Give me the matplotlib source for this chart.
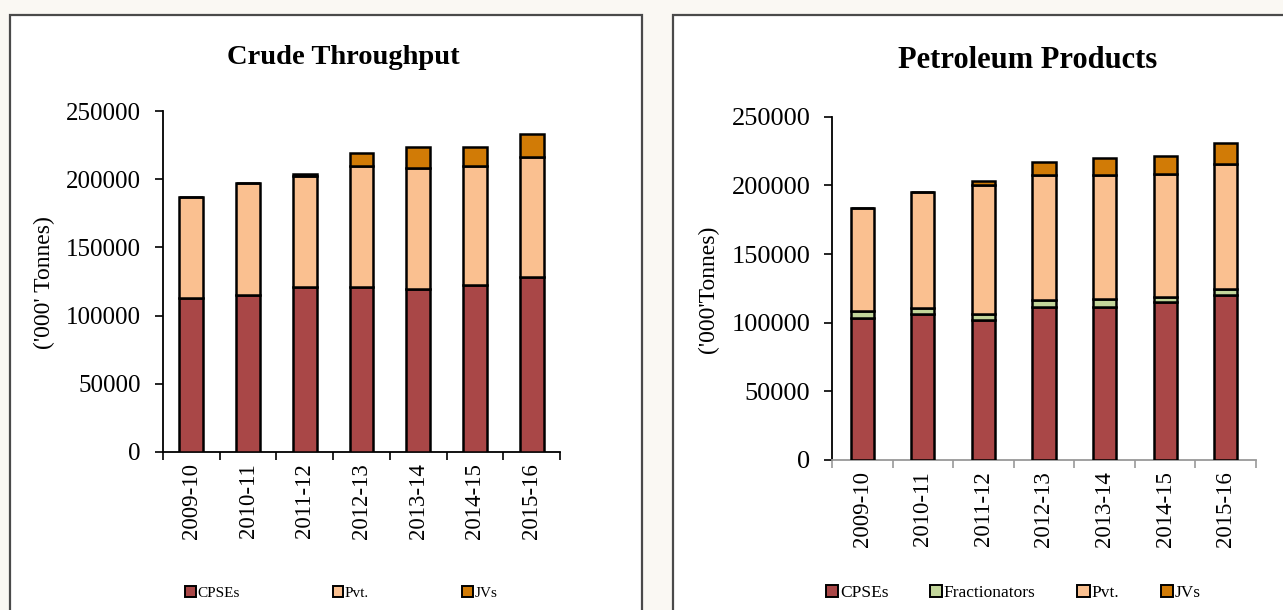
import matplotlib
matplotlib.use("Agg")
import matplotlib.pyplot as plt
from matplotlib.patches import Rectangle, Patch
import numpy as np

years = ["2009-10", "2010-11", "2011-12", "2012-13", "2013-14", "2014-15", "2015-16"]

# Crude Throughput ('000 Tonnes)
crude_cpse = [112600, 115200, 120900, 120900, 119700, 122300, 128000]
crude_pvt = [74700, 82100, 81500, 88600, 88700, 87200, 88400]
crude_jv = [0, 0, 1700, 10000, 15400, 14300, 17100]

# Petroleum Products ('000 Tonnes)
prod_cpse = [103500, 106300, 102300, 111700, 111700, 114800, 120200]
prod_frac = [4800, 4500, 4300, 4500, 5900, 4200, 4500]
prod_pvt = [75400, 84200, 93800, 91000, 89600, 89600, 91000]
prod_jv = [0, 0, 2800, 9900, 12500, 12500, 15300]

C_CPSE = "#A94747"
C_FRAC = "#C3D69B"
C_PVT = "#FAC090"
C_JV = "#D17B06"

SERIF = ["Liberation Serif", "DejaVu Serif"]
plt.rcParams["font.family"] = SERIF

fig = plt.figure(figsize=(12.83, 6.10), dpi=100)
fig.patch.set_facecolor("#FAF8F3")

# panel frames
for (x0, x1) in [(10, 642), (673, 1300)]:
    fig.patches.append(Rectangle((x0 / 1283, -0.05), (x1 - x0) / 1283, 1 - 14.8 / 610 + 0.05,
                                 transform=fig.transFigure, facecolor="white",
                                 edgecolor="#4a4a4a", linewidth=1.6, zorder=-10))


def draw(ax, series, colors, width, axis_color, ytick_fs, xtick_fs, ypad):
    x = np.arange(len(years))
    bottom = np.zeros(len(years))
    for vals, col in zip(series, colors):
        v = np.array(vals, dtype=float)
        ax.bar(x, v, width=width, bottom=bottom, color=col, edgecolor="black",
               linewidth=1.8, zorder=3)
        bottom += v
    ax.set_xlim(-0.5, len(years) - 0.5)
    ax.set_ylim(0, 250000)
    ax.set_yticks(np.arange(0, 250001, 50000))
    ax.set_yticklabels([str(v) for v in range(0, 250001, 50000)], fontsize=ytick_fs)
    ax.set_xticks(np.arange(-0.5, len(years) + 0.5, 1.0))
    ax.set_xticklabels([])
    ax.set_xticks(x, minor=True)
    ax.set_xticklabels(years, minor=True, rotation=90, fontsize=xtick_fs)
    ax.tick_params(axis="x", which="minor", length=0, pad=8)
    ax.tick_params(axis="x", which="major", length=6, width=1.2, color=axis_color)
    ax.tick_params(axis="y", length=6, width=1.2, pad=ypad)
    for s in ["top", "right"]:
        ax.spines[s].set_visible(False)
    ax.spines["left"].set_linewidth(1.3)
    ax.spines["bottom"].set_linewidth(1.3)
    ax.spines["bottom"].set_color(axis_color)
    ax.set_facecolor("none")
    ax.set_zorder(5)


# Left chart
ax1 = fig.add_axes([163 / 1283, 1 - 452 / 610, (560 - 163) / 1283, (452 - 111) / 610])
draw(ax1, [crude_cpse, crude_pvt, crude_jv], [C_CPSE, C_PVT, C_JV], 0.42, "black", 18, 16.5, 10)
fig.text(343 / 1283, 1 - 57 / 610, "Crude Throughput", ha="center", va="center",
         fontsize=20.5, fontweight="bold")
fig.text(44 / 1283, 1 - 283 / 610, "('000' Tonnes)", ha="center", va="center",
         rotation=90, fontsize=17)
h1 = [Patch(facecolor=c, edgecolor="black", linewidth=1.4) for c in [C_CPSE, C_PVT, C_JV]]
fig.legend(h1, ["CPSEs", "Pvt.", "JVs"], loc="center left",
           bbox_to_anchor=(185 / 1283, 1 - 593 / 610), ncol=3, frameon=False,
           fontsize=11, handlelength=0.7, handleheight=0.7, handletextpad=0.1,
           columnspacing=6.1, borderpad=0, borderaxespad=0)

# Right chart
ax2 = fig.add_axes([832 / 1283, 1 - 460 / 610, (1256 - 832) / 1283, (460 - 116.7) / 610])
draw(ax2, [prod_cpse, prod_frac, prod_pvt, prod_jv], [C_CPSE, C_FRAC, C_PVT, C_JV], 0.38,
     "#999999", 19, 16.5, 9.5)
fig.text(1028 / 1283, 1 - 60 / 610, "Petroleum Products", ha="center", va="center",
         fontsize=22, fontweight="bold")
fig.text(708 / 1283, 1 - 289 / 610, "('000'Tonnes)", ha="center", va="center",
         rotation=90, fontsize=17)
h2 = [Patch(facecolor=c, edgecolor="black", linewidth=1.4) for c in [C_CPSE, C_FRAC, C_PVT, C_JV]]
fig.legend(h2, ["CPSEs", "Fractionators", "Pvt.", "JVs"], loc="center left",
           bbox_to_anchor=(826 / 1283, 1 - 593 / 610), ncol=4, frameon=False,
           fontsize=12.5, handlelength=0.7, handleheight=0.7, handletextpad=0.1,
           columnspacing=2.4, borderpad=0, borderaxespad=0)

fig.savefig("out.png", dpi=100, facecolor=fig.get_facecolor())
